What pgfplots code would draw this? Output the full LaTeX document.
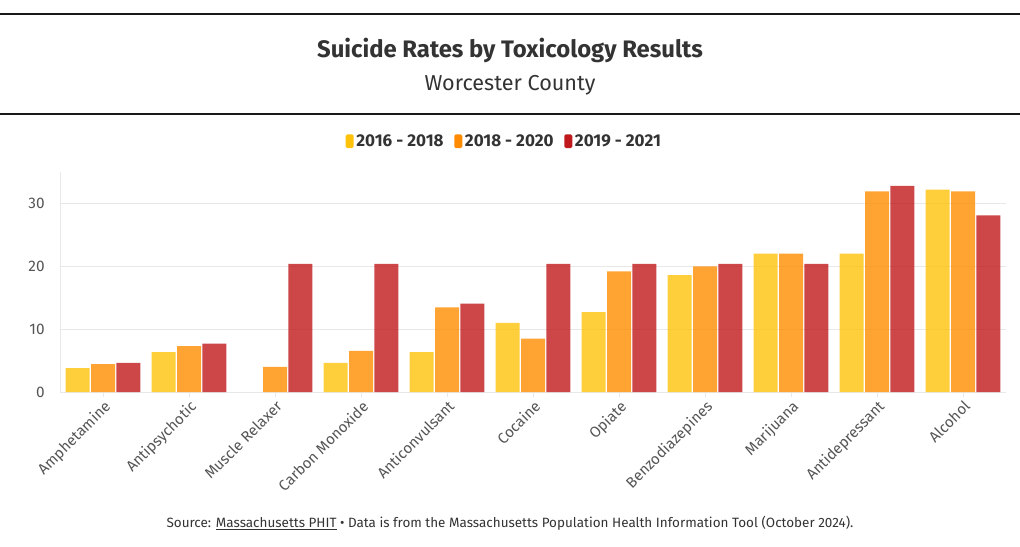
\documentclass[border=0pt]{standalone}
\usepackage{pgfplots}
\pgfplotsset{compat=1.18}
\usepackage{fontspec}
\setmainfont{Fira Sans}
\definecolor{cy}{HTML}{FFC20A}
\definecolor{co}{HTML}{FF8C00}
\definecolor{cr}{HTML}{C0191C}
\definecolor{ctext}{HTML}{333333}
\definecolor{ctick}{HTML}{555555}
\definecolor{cgrid}{HTML}{E8E8E8}
\begin{document}
\begin{tikzpicture}
\useasboundingbox (0,0) rectangle (765pt,409.5pt);
\draw[line width=1.1pt, black!90] (0,399pt) -- (765pt,399pt);
\draw[line width=1.1pt, black!90] (0,324pt) -- (765pt,324pt);
\node[font=\bfseries\fontsize{17.9}{20}\selectfont, text=ctext] at (382.5pt,371.5pt) {Suicide Rates by Toxicology Results};
\node[font=\fontsize{16.2}{19}\selectfont, text=ctext] at (382.5pt,345.5pt) {Worcester County};
\node[font=\fontsize{10.1}{12}\selectfont, text=ctext] at (382.5pt,17.25pt) {Source: \underline{Massachusetts PHIT} • Data is from the Massachusetts Population Health Information Tool (October 2024).};
\begin{axis}[
  at={(45pt,115.5pt)}, anchor=south west,
  scale only axis, width=709.5pt, height=165pt,
  xmin=-0.5, xmax=10.5, ymin=0, ymax=35,
  ybar=1.1pt, bar width=18pt,
  axis x line*=bottom, axis y line*=left,
  axis line style={cgrid, line width=0.6pt},
  xtick={0,...,10},
  xticklabels={Amphetamine,Antipsychotic,Muscle Relaxer,Carbon Monoxide,Anticonvulsant,Cocaine,Opiate,Benzodiazepines,Marijuana,Antidepressant,Alcohol},
  xticklabel style={rotate=45, anchor=north east, font=\fontsize{11.3}{13}\selectfont, text=ctick, inner sep=1pt},
  x tick style={cgrid, line width=0.6pt},
  tick align=outside, major tick length=4pt,
  ytick={0,10,20,30},
  y tick style={draw=none},
  yticklabel style={font=\fontsize{11.5}{13}\selectfont, text=ctick, xshift=-4pt},
  /pgf/number format/assume math mode=true,
  ymajorgrids, grid style={cgrid, line width=0.6pt},
  legend columns=3,
  legend style={at={(0.47,1.14)}, anchor=center, draw=none, fill=none,
    font=\bfseries\fontsize{12.8}{15}\selectfont, text=ctext,
    /tikz/every even column/.append style={column sep=6pt}},
  legend image code/.code={\fill[#1,fill opacity=1,draw=none,rounded corners=1.2pt] (0pt,-5.2pt) rectangle (6pt,5.2pt);},
]
\addplot[fill=cy, fill opacity=0.8, draw=none] coordinates {(0,3.8) (1,6.35) (3,4.65) (4,6.35) (5,11.0) (6,12.7) (7,18.6) (8,22.0) (9,22.0) (10,32.2)};
\addplot[fill=co, fill opacity=0.8, draw=none] coordinates {(0,4.45) (1,7.3) (2,4.0) (3,6.55) (4,13.45) (5,8.5) (6,19.2) (7,20.0) (8,22.0) (9,31.9) (10,31.9)};
\addplot[fill=cr, fill opacity=0.8, draw=none] coordinates {(0,4.65) (1,7.7) (2,20.4) (3,20.4) (4,14.05) (5,20.4) (6,20.4) (7,20.4) (8,20.4) (9,32.8) (10,28.1)};
\legend{2016 - 2018, 2018 - 2020, 2019 - 2021}
\end{axis}
\end{tikzpicture}
\end{document}
